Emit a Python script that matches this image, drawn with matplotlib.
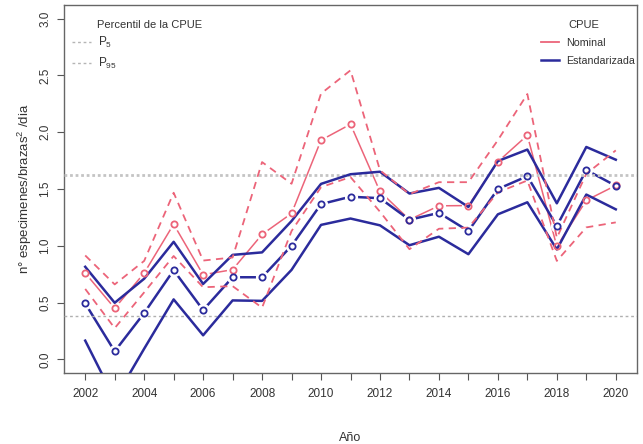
import numpy as np
import matplotlib
matplotlib.use("Agg")
import matplotlib.pyplot as plt
from matplotlib.lines import Line2D

plt.rcParams["font.family"] = ["Liberation Sans Narrow", "Liberation Sans", "DejaVu Sans"]
plt.rcParams["font.size"] = 9

years = np.arange(2002, 2021)

# CPUE nominal y sus percentiles
nominal = [0.76, 0.45, 0.76, 1.19, 0.745, 0.79, 1.10, 1.285, 1.93, 2.07,
           1.478, 1.23, 1.352, 1.354, 1.74, 1.973, 0.994, 1.40, 1.531]
nom_p95 = [0.915, 0.66, 0.867, 1.467, 0.87, 0.897, 1.737, 1.546, 2.34, 2.545,
           1.665, 1.455, 1.56, 1.56, 1.93, 2.336, 1.07, 1.634, 1.84]
nom_p5 = [0.62, 0.275, 0.59, 0.91, 0.635, 0.645, 0.455, 1.13, 1.516, 1.605,
          1.30, 0.97, 1.15, 1.16, 1.47, 1.575, 0.867, 1.162, 1.206]

# CPUE estandarizada y sus percentiles
estand = [0.492, 0.071, 0.408, 0.785, 0.434, 0.723, 0.723, 1.0, 1.367, 1.432,
          1.419, 1.229, 1.29, 1.13, 1.50, 1.613, 1.174, 1.667, 1.528]
est_p95 = [0.815, 0.498, 0.71, 1.035, 0.664, 0.92, 0.942, 1.218, 1.545, 1.63,
           1.652, 1.46, 1.51, 1.342, 1.746, 1.847, 1.374, 1.87, 1.758]
est_p5 = [0.165, -0.35, 0.094, 0.528, 0.212, 0.519, 0.515, 0.788, 1.184, 1.24,
          1.18, 1.005, 1.08, 0.926, 1.277, 1.383, 0.968, 1.451, 1.321]

# percentiles globales de la CPUE
ref_p95 = 1.62
ref_p5 = 0.38

pink = "#ec6479"
blue = "#2b2b9c"
grey = "#b5b5b5"
txt = "#333333"

fig = plt.figure(figsize=(6.43, 4.44), dpi=100)
ax = fig.add_axes([64 / 643, 1 - 373 / 444, 573 / 643, 368 / 444])

# lineas centrales tipo "b": linea, hueco blanco y circulo
ax.plot(years, nominal, color=pink, lw=1.1, zorder=2)
ax.plot(years, estand, color=blue, lw=1.8, zorder=2)
ax.plot(years, nominal, ls="none", marker="o", ms=8.5, color="white", zorder=2.5)
ax.plot(years, estand, ls="none", marker="o", ms=8.5, color="white", zorder=2.5)

ax.axhline(ref_p95, color="#c4c4c4", lw=2.0, ls=(0, (1, 1)), zorder=2.7)
ax.axhline(ref_p5, color="#b0b0b0", lw=1.0, ls=(0, (2, 2)), zorder=2.7)

ax.plot(years, est_p95, color=blue, lw=1.8, zorder=3)
ax.plot(years, est_p5, color=blue, lw=1.8, zorder=3)
ax.plot(years, nom_p95, color=pink, lw=1.3, dashes=(4, 3), zorder=3.2)
ax.plot(years, nom_p5, color=pink, lw=1.3, dashes=(4, 3), zorder=3.2)

ax.plot(years, nominal, ls="none", marker="o", ms=4.5, mew=1.3,
        mfc="none", mec=pink, zorder=4)
ax.plot(years, estand, ls="none", marker="o", ms=4.5, mew=1.3,
        mfc="none", mec=blue, zorder=4)

ax.set_xlim(2001.28, 2020.72)
ax.set_ylim(-0.12, 3.12)
ax.set_xticks(years)
ax.set_xticklabels([str(y) if y % 2 == 0 else "" for y in years])
ax.set_yticks(np.arange(0, 3.01, 0.5))
ax.set_yticklabels([f"{v:.1f}" for v in np.arange(0, 3.01, 0.5)],
                   rotation=90, va="center")
ax.tick_params(direction="out", length=5, width=0.8, color="#555555",
               labelcolor=txt, labelsize=8.5)
ax.tick_params(axis="x", pad=6)
ax.tick_params(axis="y", pad=4)
for s in ax.spines.values():
    s.set_color("#666666")
    s.set_linewidth(1.0)

ax.set_xlabel("Año", fontsize=9, color=txt, labelpad=23)
ax.set_ylabel(r"n° especimenes/brazas$\mathregular{^2}$ /dia", fontsize=9.5,
              color=txt, labelpad=4)

# leyendas
ax.text(0.0576, 0.945, "Percentil de la CPUE", transform=ax.transAxes,
        va="center", ha="left", color=txt, fontsize=8)
h1 = [Line2D([], [], color=grey, lw=1.0, ls=(0, (2, 2))),
      Line2D([], [], color=grey, lw=1.0, ls=(0, (2, 2)))]
leg1 = ax.legend(h1, [r"$\mathregular{P_5}$", r"$\mathregular{P_{95}}$"],
                 loc="upper left", bbox_to_anchor=(0.014, 0.918),
                 frameon=False, handlelength=1.6, handletextpad=0.6,
                 borderpad=0, borderaxespad=0, labelspacing=0.5,
                 fontsize=8.5, labelcolor=txt)
ax.add_artist(leg1)

ax.text(0.8796, 0.945, "CPUE", transform=ax.transAxes,
        va="center", ha="left", color=txt, fontsize=8)
h2 = [Line2D([], [], color=pink, lw=1.3), Line2D([], [], color=blue, lw=1.8)]
ax.legend(h2, ["Nominal", "Estandarizada"], loc="upper left",
          bbox_to_anchor=(0.833, 0.91), frameon=False, handlelength=1.7,
          handletextpad=0.6, borderpad=0, borderaxespad=0,
          labelspacing=0.75, fontsize=7.7, labelcolor=txt)

fig.savefig("out.png", dpi=100)
